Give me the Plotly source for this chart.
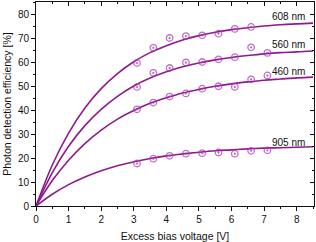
import plotly.graph_objects as go

# Measured data (excess bias voltage [V], PDE [%])
v_meas = [3.1, 3.6, 4.1, 4.6, 5.1, 5.6, 6.1, 6.6, 7.1]
pde_608 = [59.6, 65.9, 70.0, 70.8, 71.1, 71.8, 73.8, 74.6, None]
pde_560 = [49.6, 55.5, 57.5, 59.8, 60.0, 61.1, 62.0, 66.1, 63.8]
pde_460 = [40.3, 43.1, 45.6, 46.9, 48.9, 49.9, 49.6, 52.8, 54.4]
pde_905 = [17.7, 19.7, 20.9, 21.8, 22.0, 22.3, 21.8, 23.0, 23.2]

# Fit curves
v_fit = [0, 0.5, 1, 1.5, 2, 2.5, 3, 3.5, 4, 4.5, 5, 5.5, 6, 6.5, 7, 7.5, 8, 8.5]
fit_608 = [0, 17.1, 30.4, 40.8, 48.9, 55.2, 60.1, 63.9, 66.8, 69.2, 71.0, 72.4, 73.5, 74.3, 75.0, 75.5, 75.9, 76.2]
fit_560 = [0, 13.9, 24.9, 33.5, 40.3, 45.7, 50.0, 53.3, 55.9, 58.0, 59.6, 60.9, 61.9, 62.7, 63.4, 63.9, 64.2, 64.6]
fit_460 = [0, 10.6, 19.1, 26.0, 31.6, 36.2, 39.8, 42.8, 45.1, 47.1, 48.6, 49.9, 50.9, 51.7, 52.4, 52.9, 53.4, 53.7]
fit_905 = [0, 4.9, 8.9, 12.1, 14.7, 16.8, 18.4, 19.8, 20.9, 21.7, 22.4, 23.0, 23.4, 23.8, 24.1, 24.3, 24.5, 24.7]

labels = ["608 nm", "560 nm", "460 nm", "905 nm"]
label_y = [79.0, 67.3, 55.9, 26.5]

LINE = "#8E1A8E"
MARK = "rgba(170,60,180,0.75)"
FONT = "Liberation Sans, Arial, sans-serif"

fig = go.Figure()
for meas, fit in [(pde_608, fit_608), (pde_560, fit_560), (pde_460, fit_460), (pde_905, fit_905)]:
    fig.add_trace(go.Scatter(x=v_fit, y=fit, mode="lines", line=dict(color=LINE, width=1.6, shape="spline"),
                             showlegend=False, hoverinfo="skip"))
    fig.add_trace(go.Scatter(x=v_meas, y=meas, mode="markers",
                             marker=dict(symbol="circle-open-dot", size=6.5, color=MARK, line=dict(width=1.3)),
                             showlegend=False))

for t, y in zip(labels, label_y):
    fig.add_annotation(x=8.33, y=y, text=t, showarrow=False, xanchor="right", yanchor="middle",
                       font=dict(family=FONT, size=10, color="#111111"))

axis_common = dict(showgrid=False, zeroline=False, showline=True, linecolor="#111111", linewidth=1,
                   ticks="outside", tickcolor="#111111", ticklen=4, tickwidth=1,
                   tickfont=dict(family=FONT, size=10, color="#111111"))

fig.update_layout(
    width=316, height=242,
    margin=dict(l=36, r=2, t=2, b=36),
    paper_bgcolor="white", plot_bgcolor="white",
    font=dict(family=FONT, size=10, color="#111111"),
    xaxis=dict(range=[0, 8.53], tickvals=[0, 1, 2, 3, 4, 5, 6, 7, 8],
               minor=dict(tickvals=[0.5, 1.5, 2.5, 3.5, 4.5, 5.5, 6.5, 7.5, 8.5], ticklen=2, ticks="outside", tickcolor="#111111"),
               title=dict(text="Excess bias voltage [V]", font=dict(family=FONT, size=10.5), standoff=8),
               **axis_common),
    yaxis=dict(range=[0, 85], tickvals=[0, 10, 20, 30, 40, 50, 60, 70, 80],
               minor=dict(tickvals=[5, 15, 25, 35, 45, 55, 65, 75, 85], ticklen=2, ticks="outside", tickcolor="#111111"),
               title=dict(text="Photon detection efficiency [%]", font=dict(family=FONT, size=10.5), standoff=4),
               **axis_common),
    xaxis2=dict(overlaying="x", side="top", range=[0, 8.53], tickvals=[0, 1, 2, 3, 4, 5, 6, 7, 8],
                minor=dict(tickvals=[0.5, 1.5, 2.5, 3.5, 4.5, 5.5, 6.5, 7.5, 8.5], ticklen=2, ticks="inside", tickcolor="#111111"),
                showticklabels=False, showgrid=False, zeroline=False, showline=True, linecolor="#111111",
                ticks="inside", ticklen=4, tickcolor="#111111"),
    yaxis2=dict(overlaying="y", side="right", range=[0, 85], tickvals=[0, 10, 20, 30, 40, 50, 60, 70, 80],
                minor=dict(tickvals=[5, 15, 25, 35, 45, 55, 65, 75, 85], ticklen=2, ticks="inside", tickcolor="#111111"),
                showticklabels=False, showgrid=False, zeroline=False, showline=True, linecolor="#111111",
                ticks="inside", ticklen=4, tickcolor="#111111"),
)
# dummy trace to activate the mirror axes
fig.add_trace(go.Scatter(x=[None], y=[None], xaxis="x2", yaxis="y2", showlegend=False, hoverinfo="skip"))

fig.write_html("out.html", config={"displayModeBar": False},
               post_script="document.body.style.margin='0';document.body.style.padding='0';")
